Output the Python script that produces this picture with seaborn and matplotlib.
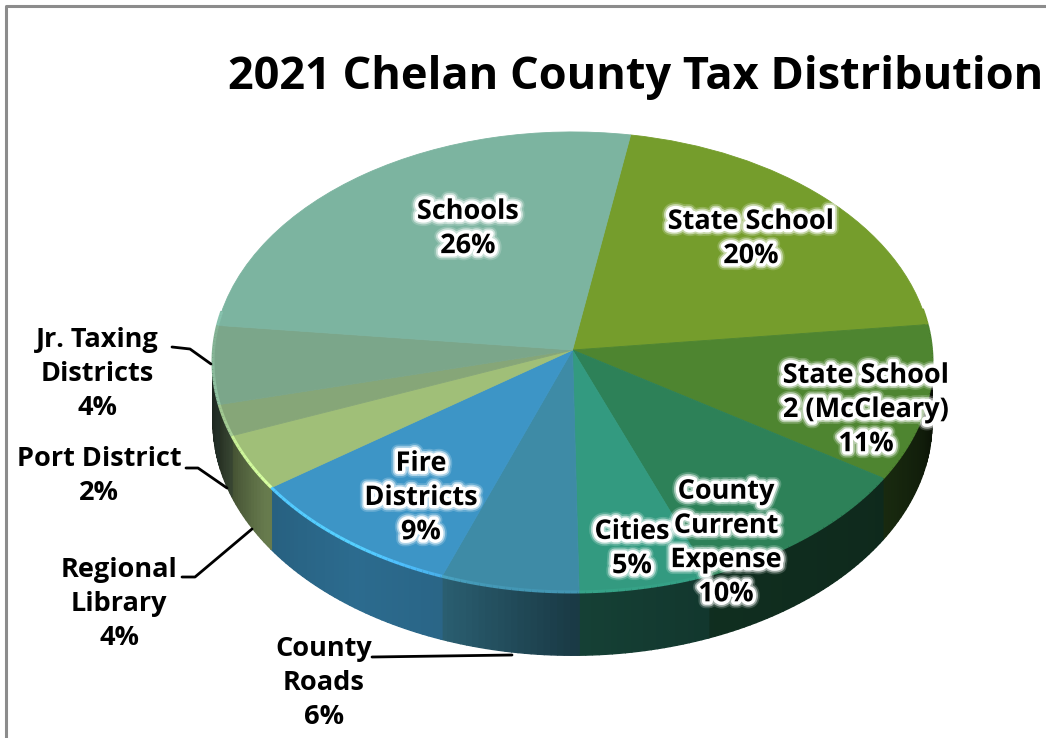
import numpy as np
import matplotlib
matplotlib.use("Agg")
import matplotlib.pyplot as plt
import matplotlib.patheffects as pe
import matplotlib.transforms as mtransforms
import seaborn as sns

# shares, clockwise from the top
slices = ["State School", "State School 2", "County Current Expense", "Cities", "County Roads",
          "Fire Districts", "Regional Library", "Port District", "Jr. Taxing Districts", "Schools"]
shares = [20.5, 10.9, 10.0, 5.6, 5.9, 9.5, 3.9, 2.2, 5.5, 26.0]
slice_colors = ["#759D2C", "#4E8530", "#2D8158", "#339A80", "#3E8BA6",
                "#3D95C6", "#A0BF78", "#86A678", "#7BA68A", "#7CB4A0"]

inner_labels = ["Schools\n26%", "State School\n20%", "State School\n2 (McCleary)\n11%",
                "County\nCurrent\nExpense\n10%", "Cities\n5%", "Fire\nDistricts\n9%"]
outer_labels = ["Jr. Taxing\nDistricts\n4%", "Port District\n2%", "Regional\nLibrary\n4%", "County\nRoads\n6%"]
title = "2021 Chelan County Tax Distribution"

sns.set_theme(style="white")
plt.rcParams["font.family"] = ["Open Sans", "DejaVu Sans"]

START = 80.2
CX, CY, A, B, K, DEPTH = 572.5, 350, 359, 229.4, 0.052, 60


def project(u, v):
    w = 1 + K * v
    return CX + A * u / w, CY - B * v / w


class Tilt(mtransforms.Transform):
    input_dims = 2
    output_dims = 2
    is_separable = False

    def transform_non_affine(self, xy):
        x, y = project(xy[:, 0], xy[:, 1])
        return np.column_stack([x, y])


fig = plt.figure(figsize=(10.46, 7.38), dpi=100)
ax = fig.add_axes([0, 0, 1, 1])

wedges, _ = ax.pie(shares, colors=sns.color_palette(slice_colors), startangle=START,
                   counterclock=False, radius=1, wedgeprops={"linewidth": 0.6, "zorder": 3})
tilt = Tilt()
for w in wedges:
    w.set_edgecolor(w.get_facecolor())
    w.set_transform(tilt + ax.transData)

ax.set_aspect("auto")
ax.set_xlim(0, 1046)
ax.set_ylim(738, 0)
ax.axis("off")

# side wall and rim, built slice by slice
edges = START - np.concatenate([[0], np.cumsum(shares)]) / np.sum(shares) * 360
shade_at = [-190, -180, -165, -146, -125, -110, -90, -70, -33, 0, 10]
shade_val = [0.16, 0.2, 0.3, 0.64, 0.72, 0.68, 0.42, 0.36, 0.32, 0.12, 0.1]
glow_at = [-180, -145, -125, -105, -85, -50]
glow_val = [0.08, 0.35, 0.4, 0.1, 0.06, 0.0]
for col, a0, a1 in zip(slice_colors, edges[:-1], edges[1:]):
    rgb = np.array(matplotlib.colors.to_rgb(col))
    steps = np.arange(a1, a0 + 1, 1)
    steps = np.clip(steps, a1, a0)
    for t0, t1 in zip(steps[:-1], steps[1:]):
        # wrap angles into -190..170 so the back of the pie is skipped
        mid = (t0 + t1) / 2
        mid = mid - 360 if mid > 170 else mid
        if mid > 10 or mid < -190:
            continue
        ang = np.radians([t0, t1])
        x, y = project(np.cos(ang), np.sin(ang))
        drop = DEPTH / (1 + K * np.sin(ang))
        face = rgb * np.interp(mid, shade_at, shade_val)
        ax.fill([x[0], x[1], x[1], x[0]], [y[0], y[1], y[1] + drop[1], y[0] + drop[0]],
                color=face, lw=1, zorder=2)
        rim = np.clip(rgb * (1 + np.interp(mid, glow_at, glow_val)), 0, 1)
        ax.plot(x, y, color=rim, lw=2.2, solid_capstyle="butt", zorder=4)

halo = [pe.withStroke(linewidth=10, foreground="white", alpha=0.2),
        pe.withStroke(linewidth=7.5, foreground="white", alpha=0.5),
        pe.withStroke(linewidth=5, foreground="white")]
inner_pos = [(468, 229), (751, 239), (866, 410), (726, 543), (632, 549), (421, 498)]
for text, (x, y) in zip(inner_labels, inner_pos):
    ax.text(x, y, text, ha="center", va="center", fontsize=19.5, fontweight="bold", color="black",
            linespacing=1.41, path_effects=halo, zorder=6)

outer_pos = [(97, 374), (99, 476), (119, 604), (324, 683)]
for text, (x, y) in zip(outer_labels, outer_pos):
    ax.text(x, y, text, ha="center", va="center", fontsize=19.5, fontweight="bold", color="black",
            linespacing=1.41, zorder=6)

# leader lines
ax.plot([172, 190, 211], [347, 349, 364], color="black", lw=2, zorder=5)
ax.plot([186, 198, 227], [468, 468, 488], color="black", lw=2, zorder=5)
ax.plot([182, 195, 252], [577, 577, 529], color="black", lw=2, zorder=5)
ax.plot([372, 512], [657, 655], color="black", lw=2, zorder=5)

ax.text(636, 77, title, ha="center", va="center", fontsize=32.5, fontweight="bold", color="black", zorder=6)

# chart frame, open on the right and bottom
ax.plot([6, 6, 1046], [738, 6, 6], color="#8C8C8C", lw=2.2, zorder=1)

fig.savefig("out.png", dpi=100, facecolor="white")
